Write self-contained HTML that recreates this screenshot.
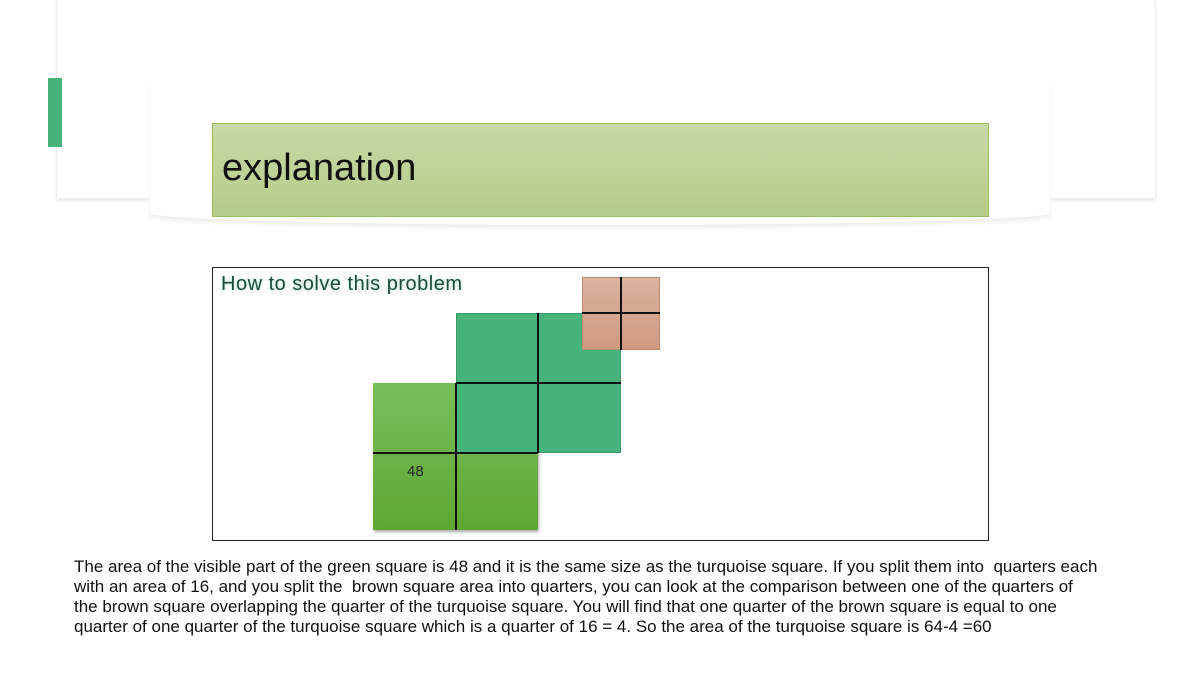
<!DOCTYPE html>
<html><head><meta charset="utf-8"><style>
body{margin:0;width:1200px;height:675px;background:#fff;position:relative;overflow:hidden;font-family:"Liberation Sans",sans-serif}
div{position:absolute;box-sizing:border-box}
.ln{background:#111}
</style></head><body>
<div style="left:56px;top:0;width:1100px;height:199px;border:1px solid #eee;border-top:none;box-shadow:0 2px 3px #eee"></div>
<div style="left:150px;top:80px;width:900px;height:145px;background:#fff;border-radius:0 0 50% 50%/0 0 12px 12px;box-shadow:0 3px 4px #eee"></div>
<div style="left:48px;top:78px;width:14px;height:69px;background:#47b37c"></div>
<div style="left:212px;top:123px;width:777px;height:94px;background:linear-gradient(#c8daa6,#b5cb88);border:1px solid #9cbb62"></div>
<div style="left:222px;top:147px;font-size:38px;color:#111">explanation</div>
<div style="left:212px;top:267px;width:777px;height:274px;border:1px solid #222"></div>
<div style="left:221px;top:273px;font-size:20px;letter-spacing:0.5px;color:#1f4a3a;text-shadow:0 0 3px #9fe6c4">How to solve this problem</div>
<div style="left:373px;top:383px;width:165px;height:147px;background:linear-gradient(#78bf5c,#5ea634);box-shadow:1px 2px 3px #aaa"></div>
<div style="left:456px;top:313px;width:165px;height:140px;background:#47b37c;border:1px solid #3a9a68"></div>
<div style="left:582px;top:277px;width:78px;height:73px;background:linear-gradient(#dbb1a0,#cf9a80);border:1px solid #b88a70"></div>
<div class="ln" style="left:537px;top:313px;width:2px;height:140px"></div>
<div class="ln" style="left:456px;top:382px;width:165px;height:2px"></div>
<div class="ln" style="left:455px;top:383px;width:2px;height:147px"></div>
<div class="ln" style="left:373px;top:452px;width:165px;height:2px"></div>
<div class="ln" style="left:620px;top:277px;width:2px;height:73px"></div>
<div class="ln" style="left:582px;top:312px;width:78px;height:2px"></div>
<div style="left:407px;top:463px;font-size:15px;color:#222">48</div>
<div style="left:74px;top:557px;width:1100px;font-size:17px;line-height:20px;color:#111;white-space:nowrap">The area of the visible part of the green square is 48 and it is the same size as the turquoise square. If you split them into&nbsp; quarters each<br>with an area of 16, and you split the&nbsp; brown square area into quarters, you can look at the comparison between one of the quarters of<br>the brown square overlapping the quarter of the turquoise square. You will find that one quarter of the brown square is equal to one<br>quarter of one quarter of the turquoise square which is a quarter of 16 = 4. So the area of the turquoise square is 64-4 =60</div>
</body></html>
